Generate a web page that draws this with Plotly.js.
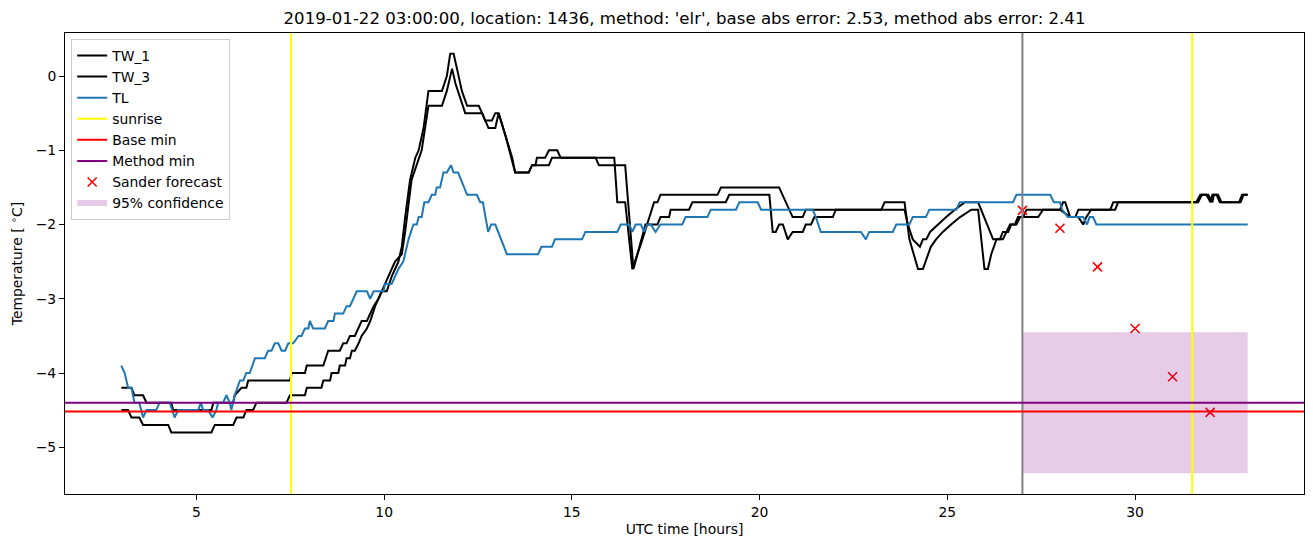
<!DOCTYPE html>
<html>
<head>
<meta charset="utf-8">
<script src="https://cdn.plot.ly/plotly-3.0.1.min.js"></script>
<style>html,body{margin:0;padding:0;background:#fff;}</style>
</head>
<body>
<div id="chart" style="width:1313px;height:547px;"></div>
<script>
// ---- data ----
const tw1_t = [3.00,3.27,3.35,3.58,3.67,4.33,4.38,5.40,5.45,5.98,
  6.02,6.20,6.33,6.38,7.49,7.54,7.89,7.94,8.38,8.45,
  8.51,8.82,8.91,9.00,9.09,9.22,9.32,9.40,9.54,9.63,
  9.72,9.85,9.94,10.07,10.20,10.38,10.47,10.56,10.69,10.83,
  10.92,11.05,11.18,11.54,11.67,11.76,11.85,11.94,12.07,12.21,
  12.52,12.61,12.69,12.87,12.96,13.05,13.23,13.41,13.49,13.85,
  13.94,14.03,14.07,14.29,14.39,14.61,14.70,16.13,16.21,16.42,
  16.61,16.88,17.19,17.28,17.36,18.88,18.97,20.52,20.88,21.15,
  21.23,23.24,23.33,23.86,23.99,24.22,24.35,24.48,24.56,24.70,
  24.88,25.10,25.34,25.64,25.82,25.99,26.08,26.17,26.31,26.48,
  26.57,26.67,26.84,26.94,27.02,27.11,28.00,28.08,28.14,28.27,
  28.41,28.49,29.34,29.42,31.63,31.74,31.90,32.01,32.06,32.17,32.26,32.81,32.89,33.00];
const tw1_v = [-4.2,-4.2,-4.3,-4.3,-4.4,-4.4,-4.5,-4.5,-4.4,-4.4,
  -4.3,-4.2,-4.2,-4.1,-4.1,-4.0,-4.0,-3.9,-3.9,-3.8,
  -3.7,-3.7,-3.6,-3.6,-3.5,-3.5,-3.4,-3.3,-3.3,-3.2,
  -3.1,-3.0,-2.9,-2.9,-2.7,-2.5,-2.3,-1.9,-1.4,-1.1,
  -1.0,-0.7,-0.2,-0.2,0.0,0.3,0.3,0.1,-0.2,-0.4,
  -0.4,-0.5,-0.6,-0.6,-0.5,-0.5,-0.8,-1.1,-1.3,-1.3,
  -1.2,-1.2,-1.1,-1.1,-1.0,-1.0,-1.1,-1.1,-1.7,-1.7,
  -2.6,-2.2,-1.7,-1.7,-1.6,-1.6,-1.5,-1.5,-1.9,-1.9,
  -1.8,-1.8,-1.7,-1.7,-2.2,-2.6,-2.6,-2.4,-2.3,-2.2,
  -2.1,-2.0,-1.9,-1.8,-1.8,-2.6,-2.6,-2.4,-2.2,-2.2,
  -2.1,-2.0,-2.0,-1.9,-1.9,-1.8,-1.8,-1.7,-1.7,-1.9,
  -1.9,-1.8,-1.8,-1.7,-1.7,-1.6,-1.6,-1.7,-1.6,-1.6,-1.7,-1.7,-1.6,-1.6];

const tw3_t = [3.00,3.18,3.27,3.48,3.58,4.25,4.33,5.40,5.49,5.98,
  6.07,6.25,6.33,6.51,6.60,7.40,7.49,7.89,7.94,8.33,
  8.38,8.56,8.60,8.78,8.82,8.96,9.00,9.09,9.14,9.22,
  9.32,9.40,9.54,9.63,9.76,9.94,10.11,10.29,10.47,10.56,
  10.73,10.86,11.00,11.18,11.54,11.67,11.81,11.90,12.16,12.61,
  12.78,12.96,13.05,13.23,13.49,13.85,13.94,14.39,14.47,15.63,
  15.72,16.42,16.64,16.96,17.28,17.36,17.59,17.63,18.12,18.21,
  19.10,19.19,20.26,20.35,20.43,20.52,20.62,20.75,20.88,21.15,
  21.23,21.37,21.46,21.95,22.03,23.86,23.95,24.08,24.27,24.35,
  24.44,24.54,24.75,24.97,25.20,25.47,25.82,26.22,26.40,26.48,
  26.62,26.70,26.80,26.88,27.42,27.55,28.00,28.27,28.49,28.62,
  28.70,28.83,29.47,29.55,31.68,31.78,31.95,32.06,32.10,32.21,
  32.30,32.77,32.85,33.00];
const tw3_v = [-4.5,-4.5,-4.6,-4.6,-4.7,-4.7,-4.8,-4.8,-4.7,-4.7,
  -4.6,-4.6,-4.5,-4.5,-4.4,-4.4,-4.3,-4.3,-4.2,-4.2,
  -4.1,-4.1,-4.0,-4.0,-3.9,-3.9,-3.8,-3.8,-3.7,-3.7,
  -3.6,-3.5,-3.4,-3.3,-3.1,-2.9,-2.7,-2.5,-2.4,-2.1,
  -1.4,-1.2,-1.0,-0.4,-0.4,-0.2,0.1,-0.1,-0.5,-0.5,
  -0.7,-0.7,-0.5,-0.8,-1.3,-1.3,-1.2,-1.2,-1.1,-1.1,
  -1.2,-1.2,-2.6,-2.0,-2.0,-1.9,-1.9,-1.8,-1.8,-1.7,
  -1.7,-1.6,-1.6,-2.1,-2.1,-2.0,-2.0,-2.2,-2.1,-2.1,
  -2.0,-2.0,-1.9,-1.9,-1.8,-1.8,-2.0,-2.2,-2.3,-2.2,
  -2.2,-2.1,-2.0,-1.9,-1.8,-1.7,-1.7,-2.2,-2.2,-2.1,
  -2.1,-2.0,-2.0,-1.9,-1.9,-1.8,-1.8,-1.9,-1.9,-2.0,
  -1.9,-1.8,-1.8,-1.7,-1.7,-1.6,-1.6,-1.7,-1.6,-1.6,
  -1.7,-1.7,-1.6,-1.6];

const tl_t = [3.00,3.09,3.18,3.27,3.35,3.48,3.58,3.67,3.93,4.02,
  4.29,4.42,4.51,5.05,5.12,5.18,5.31,5.43,5.53,5.58,
  5.71,5.80,5.89,5.93,6.02,6.16,6.25,6.33,6.42,6.56,
  6.82,6.91,7.00,7.09,7.18,7.27,7.36,7.45,7.58,7.72,
  7.80,7.89,7.98,8.02,8.11,8.42,8.51,8.65,8.69,8.91,
  9.00,9.09,9.27,9.54,9.63,9.72,9.98,10.03,10.20,10.29,
  10.38,10.51,10.65,10.78,10.87,10.92,11.00,11.07,11.18,11.27,
  11.36,11.40,11.49,11.58,11.67,11.78,11.85,11.97,12.21,12.47,
  12.56,12.63,12.77,12.85,12.96,13.27,14.10,14.19,14.47,14.55,
  15.27,15.36,16.21,16.30,16.53,16.61,16.70,16.84,16.92,17.01,
  17.10,17.23,17.36,17.94,18.03,18.61,18.70,19.37,19.46,19.95,
  20.04,21.41,21.50,21.63,22.70,22.83,22.92,23.55,23.64,23.99,
  24.08,24.43,24.52,25.24,25.33,26.75,26.84,27.74,27.84,28.00,
  28.06,28.21,28.62,28.72,28.79,28.88,28.97,33.00];
const tl_v = [-3.9,-4.0,-4.2,-4.2,-4.4,-4.4,-4.6,-4.5,-4.5,-4.4,
  -4.4,-4.6,-4.5,-4.5,-4.4,-4.5,-4.5,-4.6,-4.5,-4.4,
  -4.4,-4.3,-4.4,-4.5,-4.3,-4.1,-4.1,-4.0,-4.0,-3.8,
  -3.8,-3.7,-3.7,-3.6,-3.6,-3.7,-3.7,-3.6,-3.6,-3.5,
  -3.5,-3.4,-3.4,-3.3,-3.4,-3.4,-3.3,-3.3,-3.2,-3.2,
  -3.1,-3.1,-2.9,-2.9,-3.0,-2.9,-2.9,-2.8,-2.8,-2.7,
  -2.6,-2.5,-2.2,-2.0,-2.0,-1.9,-1.9,-1.7,-1.7,-1.6,
  -1.6,-1.5,-1.5,-1.3,-1.3,-1.2,-1.3,-1.3,-1.6,-1.6,
  -1.7,-1.7,-2.1,-2.0,-2.0,-2.4,-2.4,-2.3,-2.3,-2.2,
  -2.2,-2.1,-2.1,-2.0,-2.0,-2.1,-2.0,-2.0,-2.1,-2.0,
  -2.0,-2.1,-2.0,-2.0,-1.9,-1.9,-1.8,-1.8,-1.7,-1.7,
  -1.8,-1.8,-1.9,-2.1,-2.1,-2.2,-2.1,-2.1,-2.0,-2.0,
  -1.9,-1.9,-1.8,-1.8,-1.7,-1.7,-1.6,-1.6,-1.7,-1.7,
  -1.8,-1.9,-1.9,-2.0,-1.9,-1.9,-2.0,-2.0];

const sunrise = [7.52, 31.52];
const forecastTime = 27.0;
const baseMin = -4.52;
const methodMin = -4.40;
const sander_t = [27, 28, 29, 30, 31, 32];
const sander_v = [-1.81, -2.05, -2.57, -3.40, -4.05, -4.53];
const ci_t = [27, 33];
const ci_low = -5.35;
const ci_high = -3.45;
const xTicks = [5, 10, 15, 20, 25, 30];
const titleText = "2019-01-22 03:00:00, location: 1436, method: 'elr', base abs error: 2.53, method abs error: 2.41";

// ---- traces ----
const traces = [
  {x: tw1_t, y: tw1_v, name: 'TW_1', type: 'scatter', mode: 'lines', line: {color: 'black', width: 2}},
  {x: tw3_t, y: tw3_v, name: 'TW_3', type: 'scatter', mode: 'lines', line: {color: 'black', width: 2}},
  {x: tl_t, y: tl_v, name: 'TL', type: 'scatter', mode: 'lines', line: {color: '#1f77b4', width: 2}},
  {x: [null], y: [null], name: 'sunrise', type: 'scatter', mode: 'lines', line: {color: '#ffff00', width: 2}},
  {x: [null], y: [null], name: 'Base min', type: 'scatter', mode: 'lines', line: {color: '#ff0000', width: 2}},
  {x: [null], y: [null], name: 'Method min', type: 'scatter', mode: 'lines', line: {color: '#800080', width: 2}},
  {x: sander_t, y: sander_v, name: 'Sander forecast', type: 'scatter', mode: 'markers',
   marker: {symbol: 'x-thin-open', size: 9, color: '#ff0000', line: {color: '#ff0000', width: 1.6}}},
  {x: [ci_t[0], ci_t[1], ci_t[1], ci_t[0]], y: [ci_low, ci_low, ci_high, ci_high],
   name: '95% confidence', type: 'scatter', mode: 'none', fill: 'toself', fillcolor: 'rgba(128,0,128,0.2)'}
];

const shapes = [];
sunrise.forEach(s => shapes.push({type: 'line', xref: 'x', yref: 'paper', x0: s, x1: s, y0: 0, y1: 1,
  line: {color: '#ffff00', width: 2}, layer: 'above'}));
shapes.push({type: 'line', xref: 'x', yref: 'paper', x0: forecastTime, x1: forecastTime, y0: 0, y1: 1,
  line: {color: '#808080', width: 2}, layer: 'above'});
shapes.push({type: 'line', xref: 'paper', yref: 'y', x0: 0, x1: 1, y0: baseMin, y1: baseMin,
  line: {color: '#ff0000', width: 2}, layer: 'above'});
shapes.push({type: 'line', xref: 'paper', yref: 'y', x0: 0, x1: 1, y0: methodMin, y1: methodMin,
  line: {color: '#800080', width: 2}, layer: 'above'});

const axisCommon = {
  showline: true, mirror: true, linecolor: 'black', linewidth: 1,
  ticks: 'outside', ticklen: 5, tickwidth: 1, tickcolor: 'black',
  showgrid: false, zeroline: false, tickfont: {size: 13.9, color: 'black'}
};

const layout = {
  width: 1313, height: 547,
  margin: {l: 65, r: 9, t: 33, b: 53},
  paper_bgcolor: '#ffffff', plot_bgcolor: '#ffffff',
  font: {family: 'DejaVu Sans, sans-serif', size: 13.9, color: 'black'},
  title: {text: titleText, font: {size: 16.6, color: 'black'}, x: 0.5, xref: 'paper',
          y: 1 - 18 / 547, yref: 'container', yanchor: 'middle'},
  xaxis: Object.assign({}, axisCommon, {range: [1.5, 34.5], tickmode: 'array', tickvals: xTicks,
          title: {text: 'UTC time [hours]', font: {size: 13.9}, standoff: 5}}),
  yaxis: Object.assign({}, axisCommon, {range: [-5.63, 0.58], tick0: 0, dtick: 1,
          title: {text: 'Temperature [ <sup>∘</sup>C]', font: {size: 13.9}, standoff: 9}}),
  showlegend: true,
  legend: {x: 0.005, y: 0.987, xanchor: 'left', yanchor: 'top', bgcolor: 'rgba(255,255,255,0.8)',
           bordercolor: '#cccccc', borderwidth: 1, font: {size: 13.9}, tracegroupgap: 0},
  shapes: shapes,
  hovermode: false
};

Plotly.newPlot('chart', traces, layout, {displayModeBar: false, staticPlot: true});
</script>
</body>
</html>
